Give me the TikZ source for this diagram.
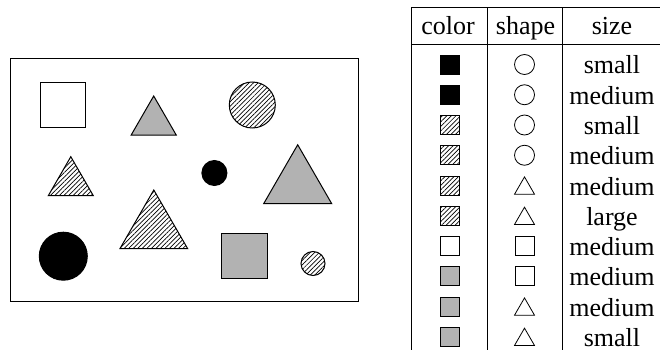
\documentclass[tikz,border=0pt]{standalone}
\usepackage{fontspec}
\setmainfont{Liberation Serif}
\usetikzlibrary{shapes.geometric,patterns.meta}
\definecolor{shade}{gray}{0.7}
\begin{document}
\begin{tikzpicture}[x=1pt,y=-1pt,
  every node/.style={inner sep=0pt,outer sep=0pt},
  rule/.style={line width=1pt},
  hatch/.style={pattern={Lines[angle=45,distance=3.2pt,line width=0.7pt]}},
  sqr/.style={draw,line width=1pt,rectangle,minimum size=#1},
  circ/.style={draw,line width=1pt,circle,minimum size=#1},
  tri/.style={draw,line width=1pt,regular polygon,regular polygon sides=3,minimum size=#1},
  lab/.style={anchor=base,font=\fontsize{26}{31}\selectfont},
  colicon/.style={draw,line width=0.8pt,rectangle,minimum size=19pt},
  cblack/.style={fill=black},
  chatch/.style={hatch},
  cwhite/.style={},
  cgray/.style={fill=shade},
  icirc/.style={draw,line width=0.8pt,circle,minimum size=20pt},
  itri/.style={draw,line width=0.8pt,regular polygon,regular polygon sides=3,minimum size=23pt,yshift=-2.9pt},
  isq/.style={draw,line width=0.8pt,rectangle,minimum size=19pt}
]
\useasboundingbox (0,0) rectangle (660,350);

% left frame with shapes
\node[draw,line width=1pt,minimum width=348pt,minimum height=242pt] (frame) at (184,180) {};
\node[sqr=45pt] (wsq) at (63.3,105) {};
\node[tri=52pt,fill=shade] (gtri1) at (153.7,122) {};
\node[circ=46pt,hatch] (hcirc1) at (252.3,105) {};
\node[tri=52pt,hatch] (htri1) at (70.8,182.7) {};
\node[circ=25pt,fill=black] (bcirc1) at (214.4,173) {};
\node[tri=78.5pt,fill=shade] (gtri2) at (297.7,184) {};
\node[circ=48pt,fill=black] (bcirc2) at (63.3,256.2) {};
\node[tri=78.2pt,hatch] (htri2) at (153.8,229.1) {};
\node[sqr=45.5pt,fill=shade] (gsq) at (244.7,256.2) {};
\node[circ=24pt,hatch] (hcirc2) at (313,263.5) {};

% table rules
\draw[rule] (411,7.3) -- (660,7.3);
\draw[rule] (411,45) -- (660,45);
\draw[rule] (411,7.3) -- (411,350);
\draw[rule] (487,7.3) -- (487,350);
\draw[rule] (562.5,7.3) -- (562.5,350);

% header
\node[lab] (hcol) at (448,35) {color};
\node[lab] (hshp) at (525.5,35) {shape};
\node[lab] (hsiz) at (612,35) {size};

% rows
\foreach \i/\c/\s/\z in {1/cblack/icirc/small,2/cblack/icirc/medium,3/chatch/icirc/small,4/chatch/icirc/medium,5/chatch/itri/medium,6/chatch/itri/large,7/cwhite/isq/medium,8/cgray/isq/medium,9/cgray/itri/medium,10/cgray/itri/small}{
  \pgfmathsetmacro\yy{64.5+30.25*(\i-1)}
  \node[colicon,\c] (col\i) at (450,\yy) {};
  \node[\s] (shp\i) at (524.5,\yy) {};
  \node[lab] (siz\i) at (612,\yy+9.5) {\z};
}
\end{tikzpicture}
\end{document}
